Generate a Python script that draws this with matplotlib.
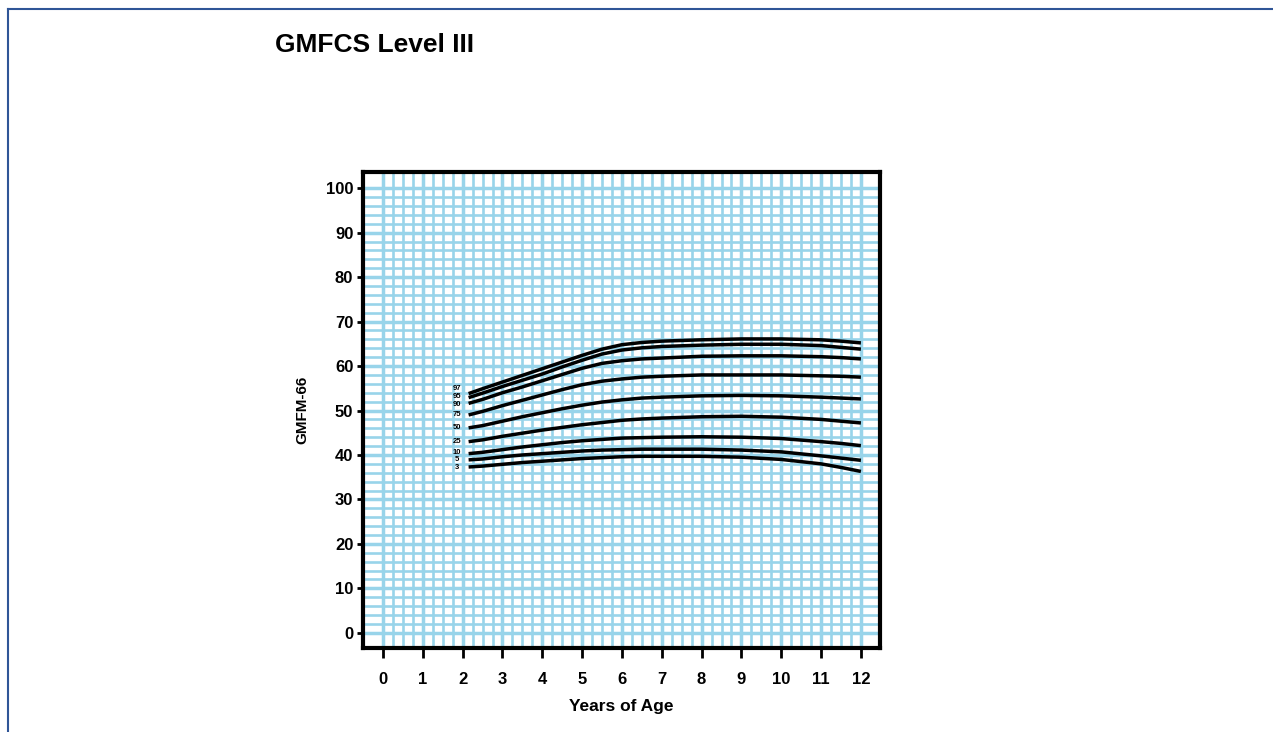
import matplotlib
matplotlib.use('Agg')
import matplotlib.pyplot as plt
from matplotlib.lines import Line2D
import numpy as np

plt.rcParams['font.family'] = ['Liberation Sans', 'DejaVu Sans']

# ages (years) and GMFM-66 percentile curves
ages = [2.15, 2.5, 3, 3.5, 4, 4.5, 5, 5.5, 6, 6.5, 7, 8, 9, 10, 11, 11.5, 12]
percentiles = ['97', '95', '90', '75', '50', '25', '10', '5', '3']
p97 = [53.8, 54.9, 56.4, 57.9, 59.4, 60.9, 62.4, 63.8, 64.8, 65.3, 65.6, 65.9, 66.1, 66.1, 65.9, 65.6, 65.2]
p95 = [52.9, 53.9, 55.4, 56.8, 58.2, 59.8, 61.3, 62.7, 63.6, 64.1, 64.4, 64.7, 64.9, 64.9, 64.6, 64.2, 63.8]
p90 = [51.6, 52.5, 54.0, 55.3, 56.7, 58.1, 59.5, 60.6, 61.2, 61.6, 61.8, 62.2, 62.3, 62.3, 62.1, 61.9, 61.6]
p75 = [49.0, 49.8, 51.1, 52.3, 53.5, 54.7, 55.8, 56.6, 57.1, 57.5, 57.7, 58.0, 58.0, 58.0, 57.8, 57.7, 57.5]
p50 = [46.1, 46.6, 47.6, 48.6, 49.5, 50.4, 51.2, 51.9, 52.4, 52.8, 53.0, 53.3, 53.4, 53.3, 53.0, 52.8, 52.6]
p25 = [43.0, 43.4, 44.2, 44.9, 45.6, 46.2, 46.8, 47.3, 47.8, 48.1, 48.3, 48.6, 48.7, 48.5, 48.0, 47.6, 47.2]
p10 = [40.3, 40.6, 41.2, 41.8, 42.3, 42.8, 43.2, 43.5, 43.8, 43.9, 44.0, 44.1, 44.0, 43.7, 43.0, 42.6, 42.1]
p5 = [38.9, 39.1, 39.6, 40.0, 40.3, 40.6, 40.9, 41.1, 41.2, 41.3, 41.3, 41.3, 41.1, 40.7, 39.8, 39.3, 38.8]
p3 = [37.3, 37.5, 37.9, 38.3, 38.6, 38.9, 39.2, 39.4, 39.6, 39.7, 39.7, 39.7, 39.5, 39.0, 38.0, 37.2, 36.3]
curves = [p97, p95, p90, p75, p50, p25, p10, p5, p3]

xticks = list(range(0, 13))
yticks = list(range(0, 101, 10))

grid_color = '#98d4ea'

fig = plt.figure(figsize=(12.73, 7.32), dpi=100)
ax = fig.add_axes([0.2852, 0.1148, 0.4061, 0.650])
ax.set_xlim(-0.5, 12.48)
ax.set_ylim(-3.4, 103.6)

# graph-paper grid
for gx in np.arange(0, 12.01, 0.25):
    lw = 2.5 if gx % 1 == 0 else 1.9
    ax.axvline(gx, color=grid_color, lw=lw, zorder=1)
for gy in np.arange(0, 100.1, 2):
    lw = 2.5 if gy % 10 == 0 else 1.9
    ax.axhline(gy, color=grid_color, lw=lw, zorder=1)

for name, vals in zip(percentiles, curves):
    ax.plot(ages, vals, color='black', lw=2.5, solid_capstyle='butt', zorder=3)

# percentile labels at curve starts
label_y = {'97': 55.0, '95': 53.2, '90': 51.4, '75': 49.0, '50': 46.1,
           '25': 43.0, '10': 40.6, '5': 38.9, '3': 37.1}
for name in percentiles:
    ax.text(1.86, label_y[name], name, fontsize=5.5, fontweight='bold',
            ha='center', va='center', zorder=4)

for s in ax.spines.values():
    s.set_linewidth(3)
    s.set_color('black')

ax.set_xticks(xticks)
ax.set_yticks(yticks)
ax.tick_params(axis='x', direction='out', length=7, width=2, pad=10, labelsize=12)
ax.tick_params(axis='y', direction='out', length=4, width=2, pad=3, labelsize=12)
for lab in ax.get_xticklabels() + ax.get_yticklabels():
    lab.set_fontweight('bold')

ax.set_xlabel('Years of Age', fontsize=12.5, fontweight='bold', labelpad=9)
ax.set_ylabel('GMFM-66', fontsize=11, fontweight='bold', labelpad=12)

fig.text(275 / 1273, 1 - 45 / 732, 'GMFCS Level III', fontsize=19,
         fontweight='bold', ha='left', va='center')

# page border (top and left)
border = '#2f5597'
fig.add_artist(Line2D([8 / 1273, 1], [1 - 9 / 732, 1 - 9 / 732], color=border, lw=1.5))
fig.add_artist(Line2D([8 / 1273, 8 / 1273], [0, 1 - 9 / 732], color=border, lw=1.5))

fig.savefig('out.png', dpi=100)
